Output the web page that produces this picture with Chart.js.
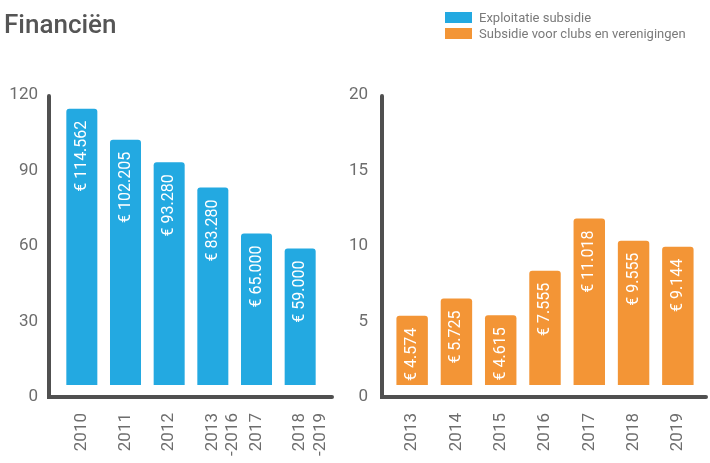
<!DOCTYPE html>
<html>
<head>
<meta charset="utf-8">
<script src="https://cdn.jsdelivr.net/npm/chart.js@4"></script>
<style>
  body { margin: 0; background: #fff; font-family: Roboto, sans-serif; }
  #wrap { position: relative; width: 710px; height: 463px; overflow: hidden; }
  #left { position: absolute; left: 0; top: 0; }
  #right { position: absolute; left: 345px; top: 0; }
  h1 { position: absolute; left: 4px; top: 9px; margin: 0; font-size: 26px; font-weight: 500; color: #555; }
  .legend { position: absolute; left: 445px; font-size: 13px; color: #7a7a7a; line-height: 16px; }
  .legend span { display: inline-block; width: 27px; height: 11px; vertical-align: -1px; margin-right: 7px; }
</style>
</head>
<body>
<div id="wrap">
  <canvas id="left" width="345" height="463"></canvas>
  <canvas id="right" width="365" height="463"></canvas>
  <h1>Financiën</h1>
  <div class="legend" style="top:10px"><span style="background:#23a9e1"></span>Exploitatie subsidie</div>
  <div class="legend" style="top:26px"><span style="background:#f39536"></span>Subsidie voor clubs en verenigingen</div>
</div>
<script>
// bedragen in duizenden euro's
const exploitatieLabels = ["2010", "2011", "2012", ["2013", "-2016"], "2017", ["2018", "-2019"]];
const exploitatieValues = [114.562, 102.205, 93.280, 83.280, 65.000, 59.000];
const clubLabels = ["2013", "2014", "2015", "2016", "2017", "2018", "2019"];
const clubValues = [4.574, 5.725, 4.615, 7.555, 11.018, 9.555, 9.144];

const tickColor = "#6d6d6d";
const axisColor = "#505050";

// thick rounded axis lines plus the white value labels inside the bars
const axesAndLabels = {
  id: "axesAndLabels",
  afterDatasetsDraw(chart, args, opts) {
    const { ctx, chartArea } = chart;
    const x0 = chartArea.left - opts.axisGap;
    const y0 = chartArea.bottom;
    ctx.save();
    ctx.strokeStyle = axisColor;
    ctx.lineWidth = 4;
    ctx.lineCap = "round";
    ctx.beginPath();
    ctx.moveTo(x0, chartArea.top + 1);
    ctx.lineTo(x0, y0);
    ctx.lineTo(chartArea.right + opts.axisExtend, y0);
    ctx.stroke();

    const meta = chart.getDatasetMeta(0);
    ctx.fillStyle = "#fff";
    ctx.font = "16px Roboto";
    ctx.textAlign = "right";
    ctx.textBaseline = "middle";
    meta.data.forEach((bar, i) => {
      const v = chart.data.datasets[0].data[i];
      ctx.save();
      ctx.translate(bar.x, bar.y + 12);
      ctx.rotate(-Math.PI / 2);
      ctx.fillText("€ " + v.toFixed(3), 0, 0);
      ctx.restore();
    });
    ctx.restore();
  },
};

function makeChart(id, labels, values, color, max, step, bars, yWidth, padRight, axisGap, axisExtend) {
  return new Chart(document.getElementById(id), {
    type: "bar",
    data: {
      labels,
      datasets: [{
        data: values,
        base: bars.base,
        yAxisID: "yb",
        backgroundColor: color,
        borderRadius: 3,
        categoryPercentage: 1,
        barPercentage: 0.71,
      }],
    },
    options: {
      responsive: false,
      animation: false,
      layout: { padding: { top: 95, right: padRight, bottom: 0, left: 0 } },
      plugins: {
        legend: { display: false },
        tooltip: { enabled: false },
        axesAndLabels: { axisGap, axisExtend },
      },
      scales: {
        x: {
          grid: { display: false, drawTicks: false },
          border: { display: false },
          ticks: { color: tickColor, font: { family: "Roboto", size: 17 }, padding: 16, minRotation: 90, maxRotation: 90, autoSkip: false },
          afterFit(scale) { scale.height = 66; scale.paddingLeft = 0; scale.paddingRight = 0; },
        },
        y: {
          min: 0,
          max,
          grid: { display: false, drawTicks: false },
          border: { display: false },
          ticks: { stepSize: step, color: tickColor, font: { family: "Roboto", size: 17 }, padding: 22 },
          afterFit(scale) { scale.width = yWidth; scale.paddingTop = 0; scale.paddingBottom = 0; },
        },
        yb: {
          display: false,
          min: bars.min,
          max: bars.max,
        },
      },
    },
    plugins: [axesAndLabels],
  });
}

makeChart("left", exploitatieLabels, exploitatieValues, "#23a9e1", 120, 30, { min: 0, max: 120, base: 4.8 }, 60, 23, 11, 10);
makeChart("right", clubLabels, clubValues, "#f39536", 20, 5, { min: -0.8, max: 19.2, base: 0 }, 45, 10, 8, 6);
</script>
</body>
</html>
